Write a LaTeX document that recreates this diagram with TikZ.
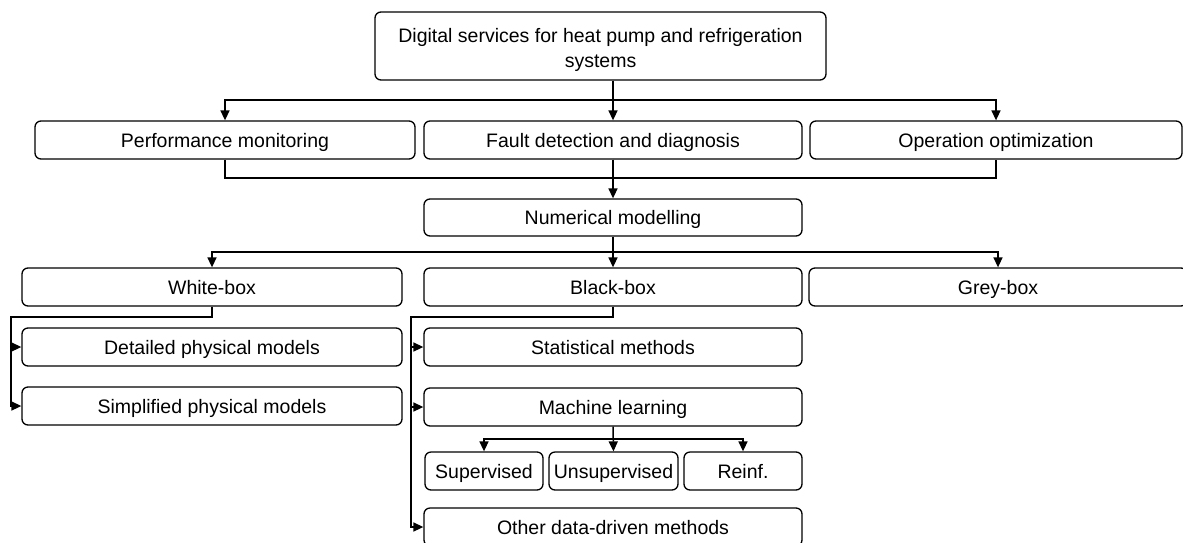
\documentclass[tikz,border=0pt]{standalone}
\usepackage{fontspec}
\setmainfont{Liberation Sans}
\usetikzlibrary{arrows.meta}
\begin{document}
\begin{tikzpicture}[x=1pt,y=-1pt,
  boxbase/.style={draw, line width=1.3pt, rounded corners=6pt, inner sep=0pt, font=\fontsize{19.5}{25}\selectfont, align=center},
  box/.style={boxbase, text height=14pt, text depth=0pt},
  conn/.style={line width=1.5pt},
  arr/.style={conn, -{Triangle[length=10pt,width=9pt]}}]
\fill[white] (0,0) rectangle (1183,542);
\useasboundingbox (0,0) rectangle (1183,542);
% nodes
\node[boxbase, minimum width=451pt, minimum height=68pt, text height=46pt, text depth=4pt] (top) at (600.5,46) {Digital services for heat pump and refrigeration\\systems};
\node[box, minimum width=380pt, minimum height=38pt] (perf) at (225,140) {Performance monitoring};
\node[box, minimum width=378pt, minimum height=38pt] (fault) at (613,140) {Fault detection and diagnosis};
\node[box, minimum width=372pt, minimum height=38pt] (op) at (996,140) {Operation optimization};
\node[box, minimum width=378pt, minimum height=37pt] (num) at (613,217.5) {Numerical modelling};
\node[box, minimum width=380pt, minimum height=38pt] (white) at (212,287) {White-box};
\node[box, minimum width=378pt, minimum height=38pt] (black) at (613,287) {Black-box};
\node[box, minimum width=378pt, minimum height=38pt] (grey) at (998,287) {Grey-box};
\node[box, minimum width=380pt, minimum height=38pt] (det) at (212,347) {Detailed physical models};
\node[box, minimum width=380pt, minimum height=38pt] (simp) at (212,406) {Simplified physical models};
\node[box, minimum width=378pt, minimum height=38pt] (stat) at (613,347) {Statistical methods};
\node[box, minimum width=378pt, minimum height=38pt] (ml) at (613,407) {Machine learning};
\node[box, minimum width=118pt, minimum height=38pt] (sup) at (484,471) {Supervised};
\node[box, minimum width=129pt, minimum height=38pt] (unsup) at (613.5,471) {Unsupervised};
\node[box, minimum width=118pt, minimum height=38pt] (reinf) at (743,471) {Reinf.};
\node[box, minimum width=378pt, minimum height=38pt] (other) at (613,527) {Other data-driven methods};
% connectors level 1
\coordinate (j1) at (613,100);
\draw[arr] (fault.north |- top.south) -- (fault.north);
\draw[arr] (j1) -| (perf.north);
\draw[arr] (j1) -| (op.north);
% merge
\coordinate (j2) at (613,178);
\draw[conn] (perf.south) |- (j2) -| (op.south);
\draw[arr] (fault.south) -- (num.north);
% level 3
\coordinate (j3) at (613,252);
\draw[arr] (num.south) -- (black.north);
\draw[arr] (j3) -| (white.north);
\draw[arr] (j3) -| (grey.north);
% white-box children
\coordinate (wl) at (11,317);
\draw[arr] (white.south) |- (wl) |- (simp.west);
\draw[arr] (wl |- det.west) -- (det.west);
% black-box children
\coordinate (bl) at (411,317);
\draw[arr] (black.south) |- (bl) |- (other.west);
\draw[arr] (bl |- stat.west) -- (stat.west);
\draw[arr] (bl |- ml.west) -- (ml.west);
% ML children
\coordinate (j4) at (613,439);
\draw[arr] (ml.south) -- (unsup.north);
\draw[arr] (j4) -| (sup.north);
\draw[arr] (j4) -| (reinf.north);
\end{tikzpicture}
\end{document}
